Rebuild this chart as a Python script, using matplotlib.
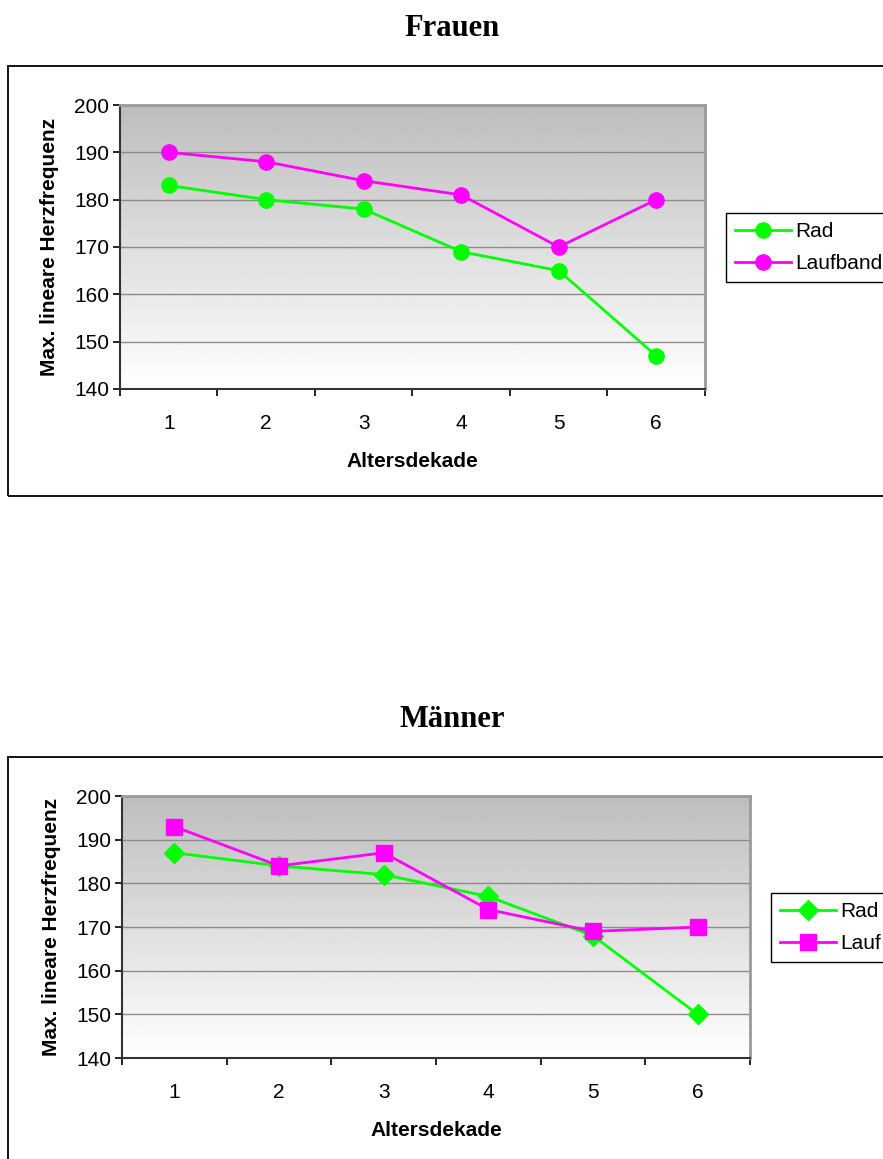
import matplotlib
matplotlib.use('Agg')
import matplotlib.pyplot as plt
import matplotlib.patches as mpatches
import numpy as np

plt.rcParams['font.family'] = ['Liberation Sans', 'DejaVu Sans']

# Werte je Altersdekade
dekaden = [1, 2, 3, 4, 5, 6]
frauen_rad = [183, 180, 178, 169, 165, 147]
frauen_laufband = [190, 188, 184, 181, 170, 180]
maenner_rad = [187, 184, 182, 177, 168, 150]
maenner_lauf = [193, 184, 187, 174, 169, 170]
y_ticks = [140, 150, 160, 170, 180, 190, 200]

GREEN = '#00FF00'
MAGENTA = '#FF00FF'

fig = plt.figure(figsize=(8.83, 11.59), dpi=100, facecolor='white')


def panel(rect, box_rect, title, title_y, series, legend_xy):
    # Rahmen um das ganze Diagramm
    fig.patches.append(mpatches.Rectangle(box_rect[:2], box_rect[2], box_rect[3],
                                          transform=fig.transFigure, fill=False,
                                          edgecolor='black', linewidth=1.3, zorder=0))
    fig.text(0.512, title_y, title, ha='center', va='center', fontsize=22,
             fontweight='bold', family='Liberation Serif')

    ax = fig.add_axes(rect)
    # Grauverlauf im Hintergrund: oben grau, unten weiss
    grad = np.linspace(0.74, 1.0, 256).reshape(-1, 1)
    ax.imshow(grad, cmap='gray', vmin=0, vmax=1, aspect='auto',
              extent=[0, 1, 0, 1], transform=ax.transAxes, zorder=0)

    for y in y_ticks[1:-1]:
        ax.axhline(y, color='#8C8C8C', linewidth=1.0, zorder=1)

    handles = []
    for vals, color, marker, ms, label in series:
        h, = ax.plot(dekaden, vals, color=color, marker=marker, markersize=ms,
                     linewidth=2.0, markeredgecolor=color, zorder=3, label=label)
        handles.append(h)

    ax.set_xlim(0.5, 6.5)
    ax.set_ylim(140, 200)
    ax.set_yticks(y_ticks)
    ax.set_xticks(dekaden)
    ax.set_xticks(np.arange(0.5, 7.0, 1.0), minor=True)
    ax.tick_params(axis='x', which='major', length=0, pad=18, labelsize=15)
    ax.tick_params(axis='x', which='minor', length=5, width=1.2, direction='out')
    ax.tick_params(axis='y', length=5, width=1.2, direction='out', labelsize=15, pad=3)

    for side in ('top', 'right'):
        ax.spines[side].set_color('#9A9A9A')
        ax.spines[side].set_linewidth(2.0)
    for side in ('left', 'bottom'):
        ax.spines[side].set_color('#333333')
        ax.spines[side].set_linewidth(1.5)

    ax.set_xlabel('Altersdekade', fontsize=15, fontweight='bold', labelpad=14)
    ax.set_ylabel('Max. lineare Herzfrequenz', fontsize=15, fontweight='bold', labelpad=11)

    leg = fig.legend(handles=handles, loc='upper left', bbox_to_anchor=legend_xy,
                     bbox_transform=fig.transFigure, borderaxespad=0, fontsize=15,
                     fancybox=False, edgecolor='black', framealpha=1,
                     handlelength=2.7, handletextpad=0.2, borderpad=0.45,
                     labelspacing=0.6)
    leg.get_frame().set_linewidth(1.0)
    return ax


panel([0.1359, 0.6644, 0.6625, 0.2450], (0.00906, 0.5720, 1.2, 0.3711),
      'Frauen', 0.9758,
      [(frauen_rad, GREEN, 'o', 11, 'Rad'),
       (frauen_laufband, MAGENTA, 'o', 11, 'Laufband')],
      (0.822, 0.8162))

panel([0.1382, 0.0871, 0.7112, 0.2261], (0.00906, -0.05, 1.2, 0.3969),
      'Männer', 0.3788,
      [(maenner_rad, GREEN, 'D', 10, 'Rad'),
       (maenner_lauf, MAGENTA, 's', 11, 'Lauf')],
      (0.873, 0.2295))

fig.savefig('out.png', dpi=100, facecolor='white')
